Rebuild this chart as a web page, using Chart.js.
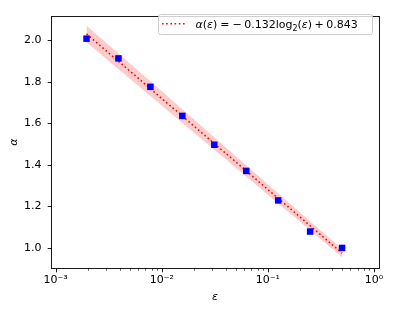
<!DOCTYPE html>
<html>
<head>
<meta charset="utf-8">
<script src="https://cdn.jsdelivr.net/npm/chart.js@4.4.1/dist/chart.umd.min.js"></script>
<style>
  html, body { margin: 0; padding: 0; background: #fff; }
</style>
</head>
<body>
<canvas id="chart" width="393" height="312"></canvas>
<script>
// measured points (eps = 2^-9 ... 2^-1)
const epsValues = [0.001953125, 0.00390625, 0.0078125, 0.015625, 0.03125, 0.0625, 0.125, 0.25, 0.5];
const alphaValues = [2.008, 1.913, 1.776, 1.636, 1.497, 1.371, 1.229, 1.079, 1.0];

// fit from the legend: alpha = slope*log2(eps) + intercept, band is +-2%
const fitSlope = -0.132;
const fitIntercept = 0.843;
const bandRel = 0.02;

const xTicks = [0.001, 0.01, 0.1, 1];
const xTickLabels = ['10⁻³', '10⁻²', '10⁻¹', '10⁰'];
const yTicks = [1.0, 1.2, 1.4, 1.6, 1.8, 2.0];

const fitValues = epsValues.map(e => fitSlope * Math.log2(e) + fitIntercept);

const FONT = 'DejaVu Sans';
const FS = 11;

// frame + tick marks, matplotlib style
const framePlugin = {
  id: 'frame',
  afterDatasetsDraw(chart) {
    const ctx = chart.ctx;
    const a = chart.chartArea;
    const xs = chart.scales.x, ys = chart.scales.y;
    const L = Math.floor(a.left) + 0.5, R = Math.floor(a.right) + 0.5;
    const T = Math.floor(a.top) + 0.5, B = Math.floor(a.bottom) + 0.5;
    ctx.save();
    ctx.strokeStyle = '#000';
    ctx.lineWidth = 0.9;
    ctx.strokeRect(L, T, R - L, B - T);

    ctx.beginPath();
    xTicks.forEach(v => {
      const px = Math.round(xs.getPixelForValue(v)) + 0.5;
      ctx.moveTo(px, B); ctx.lineTo(px, B + 3.8);
    });
    yTicks.forEach(v => {
      const py = Math.round(ys.getPixelForValue(v)) + 0.5;
      ctx.moveTo(L, py); ctx.lineTo(L - 3.8, py);
    });
    ctx.stroke();

    // minor log ticks
    ctx.lineWidth = 0.65;
    ctx.beginPath();
    for (let d = -4; d <= 0; d++) {
      for (let m = 2; m <= 9; m++) {
        const v = m * Math.pow(10, d);
        if (v < xs.min || v > xs.max) continue;
        const px = Math.round(xs.getPixelForValue(v)) + 0.5;
        ctx.moveTo(px, B); ctx.lineTo(px, B + 2.2);
      }
    }
    ctx.stroke();
    ctx.restore();
  }
};

// legend with mathtext-like label
const legendPlugin = {
  id: 'fitLegend',
  afterDraw(chart) {
    const ctx = chart.ctx;
    const bx = 158.5, by = 14.5, bw = 214, bh = 20;
    ctx.save();
    ctx.fillStyle = 'rgba(255,255,255,0.8)';
    ctx.strokeStyle = '#cccccc';
    ctx.lineWidth = 1;
    ctx.beginPath();
    ctx.roundRect(bx, by, bw, bh, 2);
    ctx.fill();
    ctx.stroke();

    ctx.strokeStyle = 'red';
    ctx.lineWidth = 1.6;
    ctx.setLineDash([1.6, 2.6]);
    ctx.beginPath();
    ctx.moveTo(162, 23.8);
    ctx.lineTo(185, 23.8);
    ctx.stroke();
    ctx.setLineDash([]);

    // gap = extra space (px) before the part, like mathtext operator spacing
    const parts = [
      { t: 'α', it: true }, { t: '(' }, { t: 'ε', it: true }, { t: ')' },
      { t: '=', gap: 3 }, { t: '−', gap: 3 }, { t: '0.132log', gap: 2.5 },
      { t: '2', sub: true }, { t: '(' }, { t: 'ε', it: true }, { t: ')' },
      { t: '+', gap: 2.5 }, { t: '0.843', gap: 2.5 }
    ];
    ctx.fillStyle = '#000';
    ctx.textBaseline = 'alphabetic';
    let x = 195.5;
    const base = 28;
    parts.forEach(p => {
      x += p.gap || 0;
      ctx.font = (p.it ? 'italic ' : '') + (p.sub ? '8px ' : FS + 'px ') + FONT;
      ctx.fillText(p.t, x, p.sub ? base + 2.5 : base);
      x += ctx.measureText(p.t).width;
    });
    ctx.restore();
  }
};

new Chart(document.getElementById('chart'), {
  type: 'scatter',
  plugins: [framePlugin, legendPlugin],
  data: {
    datasets: [
      {
        label: 'data',
        data: epsValues.map((e, i) => ({ x: e, y: alphaValues[i] })),
        pointStyle: 'rect',
        pointRadius: 4.6,
        pointBackgroundColor: '#0000ff',
        pointBorderWidth: 0,
        showLine: false
      },
      {
        label: 'fit',
        type: 'line',
        data: epsValues.map((e, i) => ({ x: e, y: fitValues[i] })),
        borderColor: 'red',
        borderWidth: 1.6,
        borderDash: [1.6, 2.6],
        pointRadius: 0,
        fill: false
      },
      {
        label: 'upper',
        type: 'line',
        data: epsValues.map((e, i) => ({ x: e, y: fitValues[i] * (1 + bandRel) })),
        borderWidth: 0,
        pointRadius: 0,
        backgroundColor: 'rgba(255,0,0,0.2)',
        fill: '+1'
      },
      {
        label: 'lower',
        type: 'line',
        data: epsValues.map((e, i) => ({ x: e, y: fitValues[i] * (1 - bandRel) })),
        borderWidth: 0,
        pointRadius: 0,
        fill: false
      }
    ]
  },
  options: {
    responsive: false,
    animation: false,
    layout: { padding: { left: 0, top: 8, right: 14, bottom: 0 } },
    plugins: {
      legend: { display: false },
      tooltip: { enabled: false }
    },
    scales: {
      x: {
        type: 'logarithmic',
        bounds: 'data',
        min: 0.0009036,
        max: 1.1143,
        afterFit: s => { s.height = 44; },
        afterBuildTicks: s => { s.ticks = xTicks.map(v => ({ value: v })); },
        grid: { display: false, drawTicks: false },
        border: { display: false },
        ticks: {
          color: '#000',
          font: { family: FONT, size: FS },
          padding: 6,
          maxRotation: 0,
          autoSkip: false,
          callback: (v, i) => xTickLabels[i]
        },
        title: {
          display: true,
          text: 'ε',
          color: '#000',
          font: { family: FONT, size: FS, style: 'italic' },
          padding: { top: 0, bottom: 8.5 }
        }
      },
      y: {
        type: 'linear',
        bounds: 'data',
        min: 0.9034,
        max: 2.1167,
        afterFit: s => { s.width = 51; },
        afterBuildTicks: s => { s.ticks = yTicks.map(v => ({ value: v })); },
        grid: { display: false, drawTicks: false },
        border: { display: false },
        ticks: {
          color: '#000',
          font: { family: FONT, size: FS },
          padding: 9.5,
          callback: v => v.toFixed(1)
        },
        title: {
          display: true,
          text: 'α',
          color: '#000',
          font: { family: FONT, size: FS, style: 'italic' },
          padding: { top: 7.5, bottom: 0 }
        }
      }
    }
  }
});
</script>
</body>
</html>
